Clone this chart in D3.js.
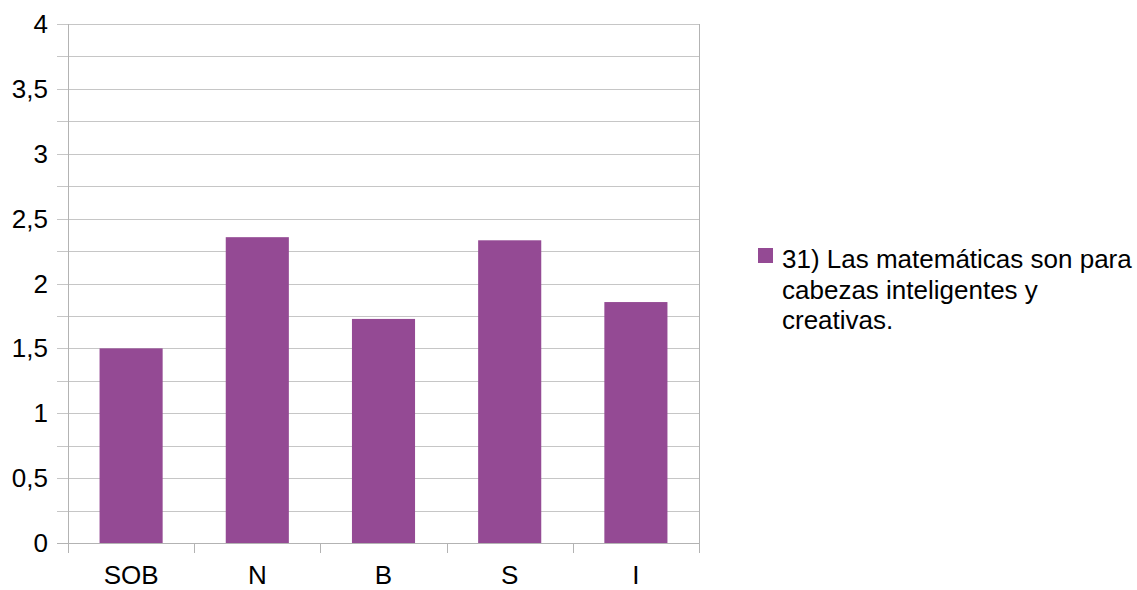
<!DOCTYPE html>
<html>
<head>
<meta charset="utf-8">
<script src="https://cdn.jsdelivr.net/npm/d3@7"></script>
<style>
  html, body { margin: 0; padding: 0; background: #fff; }
  svg { display: block; }
  text { font-family: "Liberation Sans", Arial, sans-serif; fill: #000; }
</style>
</head>
<body>
<svg id="chart" width="1137" height="590"></svg>
<script>
const categories = ["SOB", "N", "B", "S", "I"];
const values = [1.5, 2.357, 1.727, 2.333, 1.857];
const seriesName = ["31) Las matemáticas son para", "cabezas inteligentes y", "creativas."];
const yTicks = [0, 0.5, 1, 1.5, 2, 2.5, 3, 3.5, 4];
const yTickLabels = ["0", "0,5", "1", "1,5", "2", "2,5", "3", "3,5", "4"];
const gridValues = d3.range(0, 4.0001, 0.25);

(function () {
const svg = d3.select("#chart");
const pLeft = 68, pRight = 699, pTop = 24, pBottom = 543;
const barColor = "#944a94";
const gridColor = "#c6c6c6";
const axisColor = "#b3b3b3";
const fs = 26;

const x = d3.scaleBand().domain(categories).range([pLeft, pRight]).paddingInner(0.5).paddingOuter(0.25);
const y = d3.scaleLinear().domain([0, 4]).range([pBottom, pTop]);

// gridlines
svg.append("g").selectAll("line").data(gridValues).join("line")
  .attr("x1", pLeft - 11).attr("x2", pRight)
  .attr("y1", d => Math.round(y(d)) + 0.5).attr("y2", d => Math.round(y(d)) + 0.5)
  .attr("stroke", gridColor).attr("stroke-width", 1);

// right border
svg.append("line").attr("x1", pRight + 0.5).attr("x2", pRight + 0.5)
  .attr("y1", pTop).attr("y2", pBottom + 10).attr("stroke", axisColor);

// bars
svg.append("g").selectAll("rect").data(categories).join("rect")
  .attr("x", d => x(d)).attr("width", x.bandwidth())
  .attr("y", (d, i) => y(values[i])).attr("height", (d, i) => y(0) - y(values[i]))
  .attr("fill", barColor);

// left axis line
svg.append("line").attr("x1", pLeft + 0.5).attr("x2", pLeft + 0.5)
  .attr("y1", pTop).attr("y2", pBottom + 10).attr("stroke", axisColor);

// bottom axis line
svg.append("line").attr("x1", pLeft - 11).attr("x2", pRight)
  .attr("y1", pBottom + 0.5).attr("y2", pBottom + 0.5).attr("stroke", axisColor);

// x ticks at band boundaries
const bounds = d3.range(categories.length + 1).map(i => pLeft + i * (pRight - pLeft) / categories.length);
svg.append("g").selectAll("line").data(bounds).join("line")
  .attr("x1", d => Math.round(d) + 0.5).attr("x2", d => Math.round(d) + 0.5)
  .attr("y1", pBottom).attr("y2", pBottom + 10).attr("stroke", axisColor);

// y labels
svg.append("g").selectAll("text").data(yTicks).join("text")
  .attr("x", 48).attr("y", d => y(d) + 9)
  .attr("text-anchor", "end").attr("font-size", fs)
  .text((d, i) => yTickLabels[i]);

// x labels
svg.append("g").selectAll("text").data(categories).join("text")
  .attr("x", d => x(d) + x.bandwidth() / 2).attr("y", 584)
  .attr("text-anchor", "middle").attr("font-size", fs)
  .text(d => d);

// legend
svg.append("rect").attr("x", 758).attr("y", 248).attr("width", 15).attr("height", 15).attr("fill", barColor);
svg.append("g").selectAll("text").data(seriesName).join("text")
  .attr("x", 782).attr("y", (d, i) => 268 + i * 30.5)
  .attr("font-size", fs).text(d => d);
})();
</script>
</body>
</html>
